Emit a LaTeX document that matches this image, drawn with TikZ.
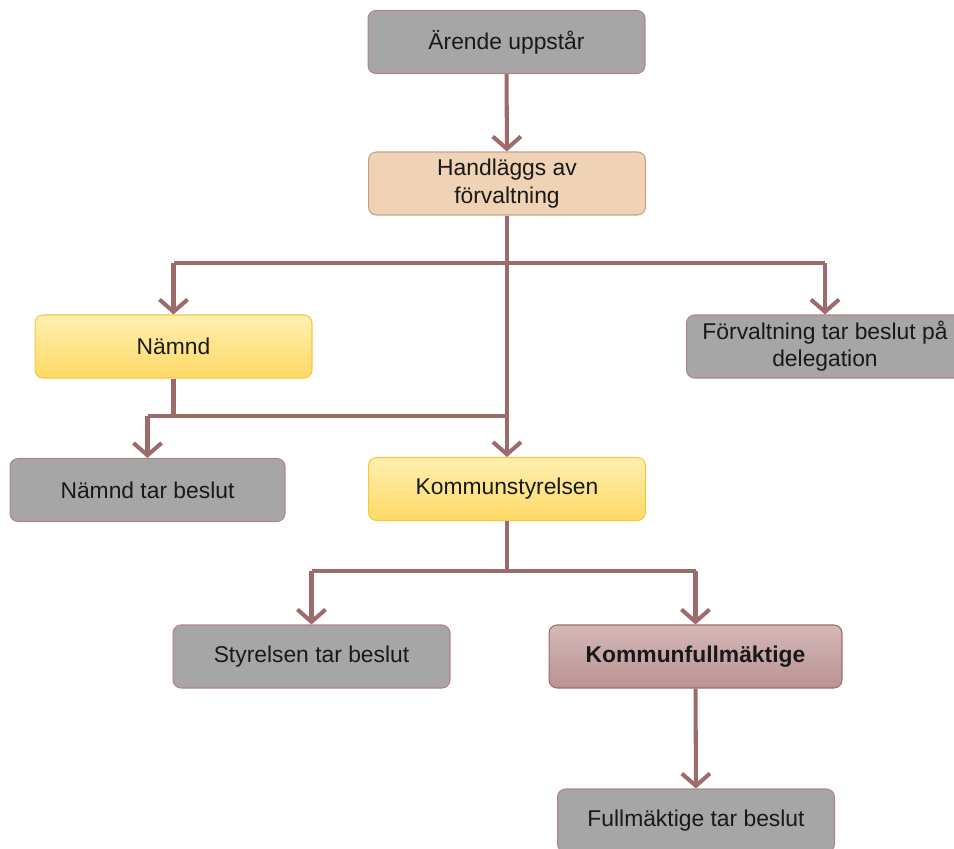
\documentclass[tikz,border=0pt]{standalone}
\usepackage{fontspec}
\setmainfont{Liberation Sans}
\usetikzlibrary{arrows.meta}
\definecolor{ln}{HTML}{9E6B6B}
\definecolor{gr}{HTML}{A6A6A6}
\definecolor{grb}{HTML}{B08585}
\definecolor{pe}{HTML}{F0D2B4}
\definecolor{peb}{HTML}{C8A088}
\definecolor{ye1}{HTML}{FFEFB0}
\definecolor{ye2}{HTML}{FFD966}
\definecolor{yeb}{HTML}{F5C842}
\definecolor{ma1}{HTML}{D4B8B8}
\definecolor{ma2}{HTML}{BA9292}

\tikzset{
  box/.style={rounded corners=0.16cm, minimum width=5.54cm, minimum height=1.26cm,
    align=center, font=\fontsize{13}{15.5}\selectfont, text=black!90, line width=0.6pt},
  graybox/.style={box, fill=gr, draw=grb},
  peachbox/.style={box, fill=pe, draw=peb},
  yellowbox/.style={box, draw=yeb, top color=ye1, bottom color=ye2},
  mauvebox/.style={box, draw=ln, top color=ma1, bottom color=ma2, font=\fontsize{13}{15.5}\selectfont\bfseries},
  conn/.style={draw=ln, line width=2.3pt},
  arr/.style={-{Straight Barb[length=7pt,width=16pt,line width=2.3pt]}}
}

\begin{document}
\begin{tikzpicture}[x=0.02cm,y=-0.02cm]

\useasboundingbox (0,0) rectangle (954,849);
\clip (0,0) rectangle (954,849);

% boxes
\node[graybox] (arende) at (506.5,42) {Ärende uppstår};
\node[peachbox] (hand) at (507,183.5) {Handläggs av\\förvaltning};
\node[yellowbox] (namnd) at (173.5,346.5) {Nämnd};
\node[graybox] (forv) at (825,346.5) {Förvaltning tar beslut på\\delegation};
\node[graybox, minimum width=5.5cm] (nbeslut) at (147.5,490) {Nämnd tar beslut};
\node[yellowbox] (ks) at (507,489) {Kommunstyrelsen};
\node[graybox] (sbeslut) at (311.5,656.5) {Styrelsen tar beslut};
\node[mauvebox, minimum width=5.86cm] (kf) at (695.5,656.5) {Kommunfullmäktige};
\node[graybox] (fbeslut) at (696,820.5) {Fullmäktige tar beslut};

% junctions
\coordinate (j1) at (507,263);
\coordinate (j2) at (173.5,416);
\coordinate (j3) at (507,571);

% connectors
\draw[conn,arr] (arende) -- (hand);
\draw[conn,arr] (hand) -- (ks);
\draw[conn] (namnd.north |- j1) -- (forv.north |- j1);
\draw[conn,arr] (namnd.north |- j1) -- (namnd.north);
\draw[conn,arr] (forv.north |- j1) -- (forv.north);

\draw[conn] (namnd.south) -- (j2);
\draw[conn] (nbeslut.north |- j2) -- (ks.north |- j2);
\draw[conn,arr] (nbeslut.north |- j2) -- (nbeslut.north);

\draw[conn] (ks.south) -- (j3);
\draw[conn] (sbeslut.north |- j3) -- (kf.north |- j3);
\draw[conn,arr] (sbeslut.north |- j3) -- (sbeslut.north);
\draw[conn,arr] (kf.north |- j3) -- (kf.north);

\draw[conn,arr] (kf) -- (fbeslut);

\end{tikzpicture}
\end{document}
